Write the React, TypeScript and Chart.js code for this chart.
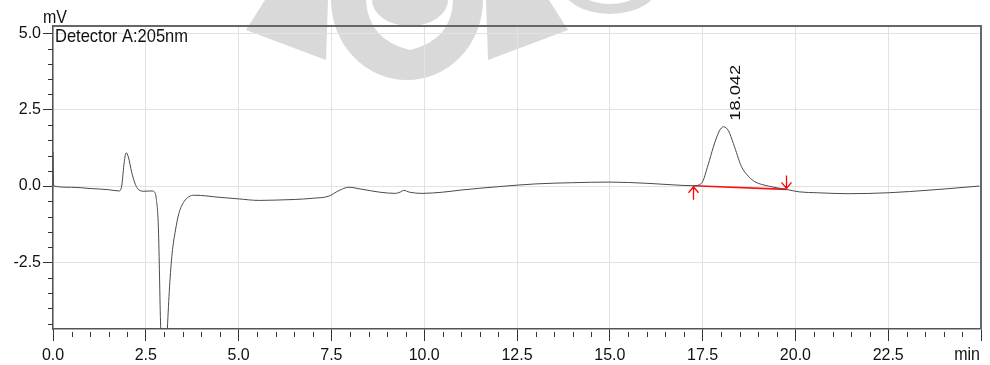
import React, { useEffect, useRef } from "react";
import { Chart, registerables } from "chart.js";

Chart.register(...registerables);

// Chromatogram trace (time in min, signal in mV)
const times = [
  0.0, 0.02, 0.5, 1.0, 1.5, 1.78, 1.85, 1.92, 1.97, 2.03, 2.12, 2.22, 2.31, 2.45, 2.67,
  2.72, 2.78, 2.84, 2.9, 3.0, 3.08, 3.14, 3.21, 3.3, 3.39, 3.53, 3.66, 3.8, 4.5, 5.0,
  5.54, 6.0, 6.5, 7.0, 7.43, 7.7, 7.97, 8.3, 8.8, 9.22, 9.35, 9.45, 9.6, 9.94, 10.5,
  11.0, 12.0, 13.0, 14.0, 15.0, 16.0, 16.7, 17.25, 17.47, 17.65, 17.79, 17.95, 18.06,
  18.2, 18.33, 18.55, 18.75, 18.91, 19.27, 19.76, 20.1, 20.6, 21.42, 22.5, 23.65, 24.96,
];
const signal = [
  1.12, 0.0, -0.04, -0.08, -0.12, -0.16, 0.0, 0.8, 1.09, 0.95, 0.45, 0.05, -0.12, -0.17, -0.16,
  -0.18, -0.4, -1.4, -4.6, -7.0, -4.7, -3.3, -2.2, -1.44, -0.9, -0.51, -0.35, -0.3, -0.37, -0.42,
  -0.47, -0.46, -0.44, -0.4, -0.33, -0.15, -0.04, -0.1, -0.2, -0.24, -0.2, -0.14, -0.2, -0.24, -0.2,
  -0.13, -0.02, 0.07, 0.11, 0.13, 0.09, 0.04, 0.01, 0.09, 0.7, 1.28, 1.8, 1.94,
  1.8, 1.39, 0.63, 0.3, 0.14, 0.0, -0.11, -0.19, -0.22, -0.25, -0.22, -0.13, 0.0,
];

// Integration baseline of the labelled peak
const baselineTimes = [17.25, 19.76];
const baselineValues = [0.01, -0.11];
const peakTime = 18.042;
const peakHeight = 1.94;
const peakLabel = "18.042";

const xTicks = [0, 2.5, 5, 7.5, 10, 12.5, 15, 17.5, 20, 22.5, 25];
const yTicks = [-2.5, 0, 2.5, 5];
const xRange = [0, 25];
const yRange = [-4.68, 5.24];
const detectorLabel = "Detector A:205nm";
const yUnit = "mV";
const xUnit = "min";

const FONT = "'Liberation Sans', Arial, sans-serif";

// faint background watermark (decoration only)
const watermarkPlugin = {
  id: "watermark",
  beforeDraw(chart: any) {
    const { ctx } = chart;
    ctx.save();
    ctx.fillStyle = "#d9d9d9";
    // left wedge
    ctx.beginPath();
    ctx.moveTo(265, 0);
    ctx.lineTo(328, 0);
    ctx.lineTo(326, 60);
    ctx.lineTo(246, 30);
    ctx.closePath();
    ctx.fill();
    // right wedge
    ctx.beginPath();
    ctx.moveTo(549, 0);
    ctx.lineTo(486, 0);
    ctx.lineTo(488, 60);
    ctx.lineTo(568, 30);
    ctx.closePath();
    ctx.fill();
    // central ring
    ctx.beginPath();
    ctx.ellipse(407, 0, 76, 80, 0, 0, Math.PI);
    ctx.fill();
    ctx.fillStyle = "#ffffff";
    ctx.beginPath();
    ctx.moveTo(366, 0);
    ctx.lineTo(453, 0);
    ctx.quadraticCurveTo(452, 40, 410, 50);
    ctx.quadraticCurveTo(368, 40, 366, 0);
    ctx.closePath();
    ctx.fill();
    ctx.fillStyle = "#d9d9d9";
    ctx.beginPath();
    ctx.ellipse(410, 0, 38, 26, 0, 0, Math.PI);
    ctx.fill();
    // top right arc
    ctx.beginPath();
    ctx.ellipse(610, -18, 50, 32, 0, 0, Math.PI);
    ctx.fill();
    ctx.fillStyle = "#ffffff";
    ctx.beginPath();
    ctx.ellipse(610, -22, 40, 26, 0, 0, Math.PI);
    ctx.fill();
    ctx.restore();
  },
};

const decorPlugin = {
  id: "decor",
  afterDraw(chart: any) {
    const { ctx, chartArea } = chart;
    const xs = chart.scales.x;
    const ys = chart.scales.y;
    const { left, right, top, bottom } = chartArea;
    ctx.save();
    // frame top & right
    ctx.strokeStyle = "#666";
    ctx.lineWidth = 2;
    ctx.beginPath();
    ctx.moveTo(left, top);
    ctx.lineTo(right, top);
    ctx.lineTo(right, bottom);
    ctx.stroke();
    // minor ticks
    ctx.strokeStyle = "#333";
    ctx.lineWidth = 1;
    ctx.beginPath();
    for (let i = -9; i <= 10; i++) {
      const v = i * 0.5;
      if (i % 5 === 0) continue;
      const y = Math.round(ys.getPixelForValue(v)) + 0.5;
      if (y < top || y > bottom) continue;
      ctx.moveTo(left - 5, y);
      ctx.lineTo(left, y);
    }
    for (let i = 1; i < 50; i++) {
      if (i % 5 === 0) continue;
      const x = Math.round(xs.getPixelForValue(i * 0.5)) + 0.5;
      ctx.moveTo(x, bottom + 3);
      ctx.lineTo(x, bottom + 8);
    }
    ctx.stroke();
    // texts
    ctx.fillStyle = "#111";
    ctx.textBaseline = "alphabetic";
    ctx.textAlign = "left";
    ctx.save();
    ctx.translate(left + 2, top + 16);
    ctx.scale(1, 1.12);
    ctx.font = `16.5px ${FONT}`;
    ctx.fillText(detectorLabel, 0, 0);
    ctx.restore();
    ctx.save();
    ctx.translate(left - 10, top - 3);
    ctx.scale(1, 1.1);
    ctx.font = `16px ${FONT}`;
    ctx.fillText(yUnit, 0, 0);
    ctx.restore();
    ctx.save();
    ctx.translate(right - 1, bottom + 31);
    ctx.scale(1, 1.1);
    ctx.font = `16px ${FONT}`;
    ctx.textAlign = "right";
    ctx.fillText(xUnit, 0, 0);
    ctx.restore();
    // peak label
    const px = xs.getPixelForValue(peakTime);
    const py = ys.getPixelForValue(peakHeight);
    ctx.save();
    ctx.translate(px + 17, py - 6);
    ctx.rotate(-Math.PI / 2);
    ctx.scale(1.22, 1);
    ctx.font = `15px ${FONT}`;
    ctx.textAlign = "left";
    ctx.fillText(peakLabel, 0, 0);
    ctx.restore();
    // arrows
    ctx.strokeStyle = "#ff0000";
    ctx.lineWidth = 1.3;
    const sx = Math.round(xs.getPixelForValue(baselineTimes[0])) + 0.5;
    const sy = ys.getPixelForValue(baselineValues[0]);
    ctx.beginPath();
    ctx.moveTo(sx, sy + 14);
    ctx.lineTo(sx, sy + 1);
    ctx.moveTo(sx - 5, sy + 7);
    ctx.lineTo(sx, sy + 1);
    ctx.lineTo(sx + 5, sy + 7);
    const ex = Math.round(xs.getPixelForValue(baselineTimes[1])) + 0.5;
    const ey = ys.getPixelForValue(baselineValues[1]);
    ctx.moveTo(ex, ey - 14);
    ctx.lineTo(ex, ey - 1);
    ctx.moveTo(ex - 5, ey - 7);
    ctx.lineTo(ex, ey - 1);
    ctx.lineTo(ex + 5, ey - 7);
    ctx.stroke();
    ctx.restore();
  },
};

export default function App() {
  const ref = useRef<HTMLCanvasElement | null>(null);
  useEffect(() => {
    if (!ref.current) return;
    const chart = new Chart(ref.current, {
      type: "line",
      data: {
        datasets: [
          {
            data: times.map((t, i) => ({ x: t, y: signal[i] })),
            borderColor: "#4a4a4a",
            borderWidth: 1,
            pointRadius: 0,
            cubicInterpolationMode: "monotone",
          },
          {
            data: baselineTimes.map((t, i) => ({ x: t, y: baselineValues[i] })),
            borderColor: "#ff1010",
            borderWidth: 1.6,
            pointRadius: 0,
          },
        ],
      },
      options: {
        animation: false,
        responsive: false,
        devicePixelRatio: 1,
        layout: { padding: { top: 26, right: 9, left: 0, bottom: 0 } },
        plugins: { legend: { display: false }, tooltip: { enabled: false } },
        scales: {
          x: {
            type: "linear",
            min: xRange[0],
            max: xRange[1],
            afterFit: (s: any) => {
              s.height = 36;
            },
            afterBuildTicks: (s: any) => {
              s.ticks = xTicks.map((v) => ({ value: v }));
            },
            ticks: {
              color: "#111",
              font: { family: FONT, size: 16 },
              padding: 5,
              maxRotation: 0,
              autoSkip: false,
              callback: (v: any) => (v === 25 ? "" : Number(v).toFixed(1)),
            },
            grid: { color: "#e2e2e2", tickColor: "#333", tickLength: 12, drawTicks: true },
            border: { display: true, color: "#555", width: 1.5 },
          },
          y: {
            type: "linear",
            min: yRange[0],
            max: yRange[1],
            afterFit: (s: any) => {
              s.width = 53;
            },
            afterBuildTicks: (s: any) => {
              s.ticks = yTicks.map((v) => ({ value: v }));
            },
            ticks: {
              color: "#111",
              font: { family: FONT, size: 16 },
              padding: 2,
              callback: (v: any) => Number(v).toFixed(1),
            },
            grid: { color: "#e2e2e2", tickColor: "#333", tickLength: 10, drawTicks: true },
            border: { display: true, color: "#555", width: 1.5 },
          },
        },
      },
      plugins: [watermarkPlugin, decorPlugin],
    } as any);
    return () => chart.destroy();
  }, []);
  return (
    <div style={{ position: "absolute", left: 0, top: 0, width: 990, height: 365, background: "#fff" }}>
      <canvas ref={ref} width={990} height={365} />
    </div>
  );
}
